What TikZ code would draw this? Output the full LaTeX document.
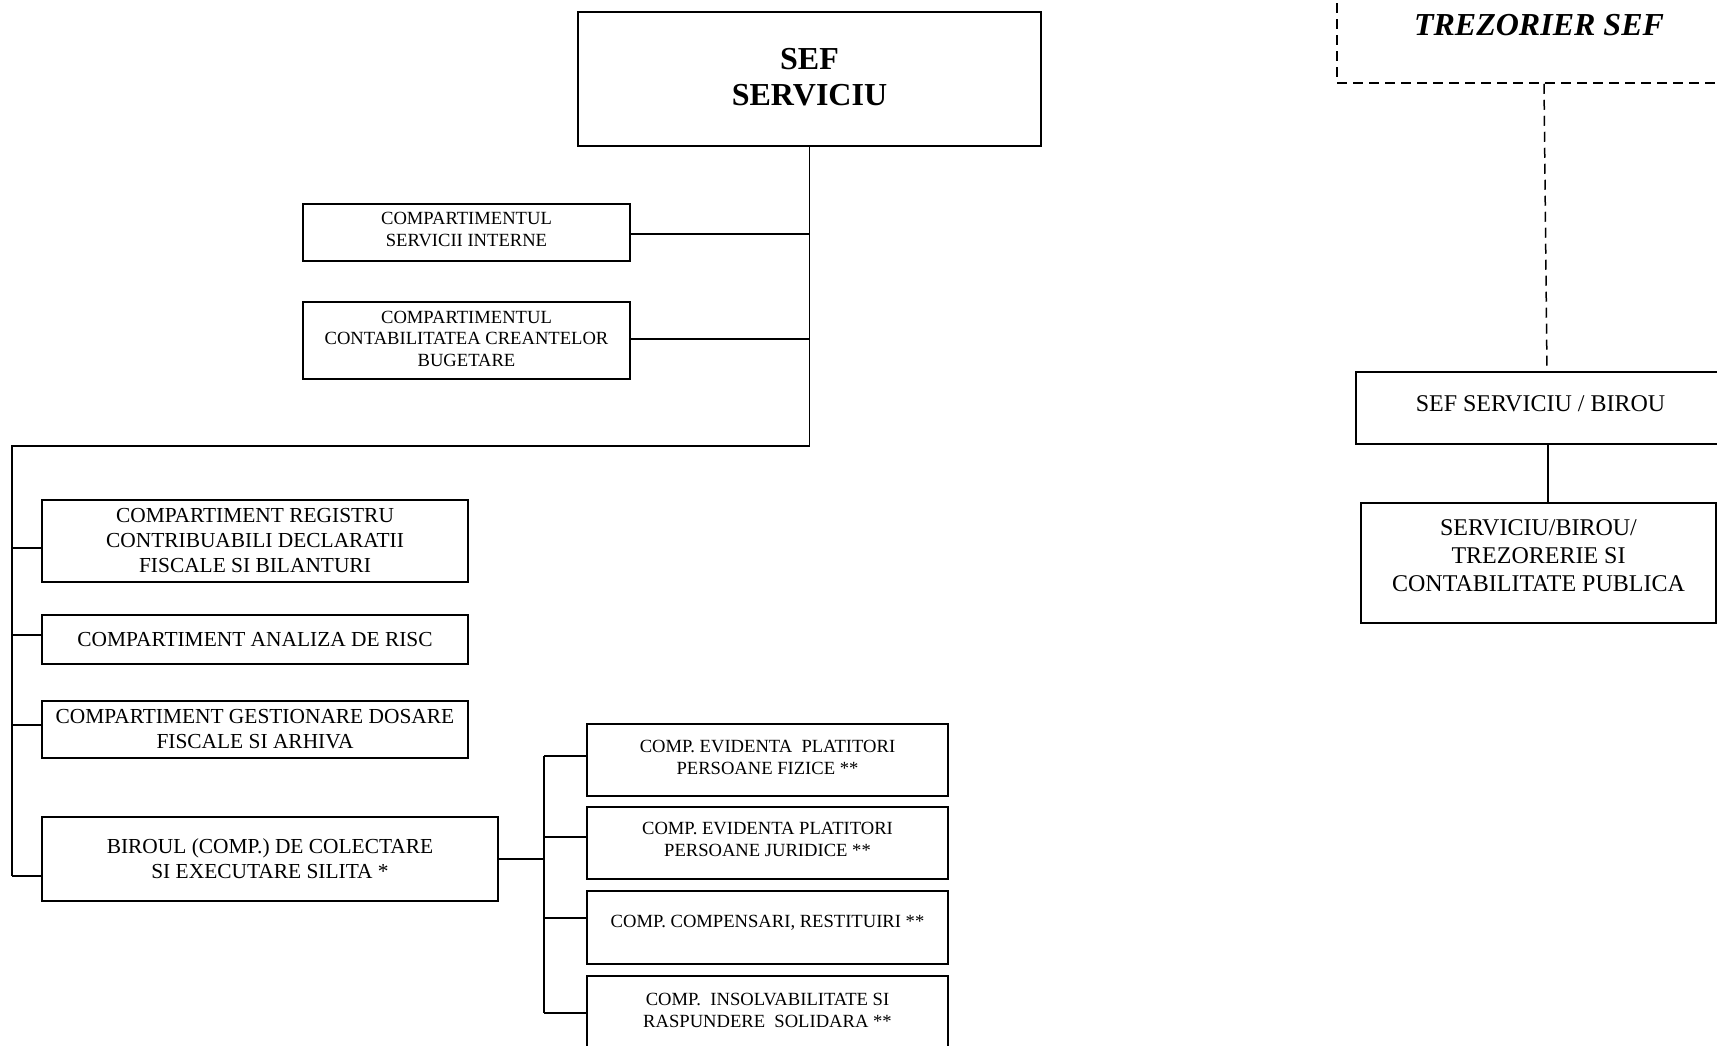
\documentclass[tikz,border=0pt]{standalone}
\usepackage{fontspec}
\setmainfont{Liberation Serif}
\newcommand\rlines[2]{\raisebox{#1}[\height][\depth]{\begin{tabular}{@{}c@{}}#2\end{tabular}}}
\begin{document}
\begin{tikzpicture}[x=1pt,y=-1pt,
  box/.style={draw, line width=1.5pt, inner sep=0pt, align=center},
  bigtxt/.style={font=\fontsize{21.4}{25}\selectfont},
  smalltxt/.style={font=\fontsize{18.6}{21.8}\selectfont},
  midtxt/.style={font=\fontsize{24}{28}\selectfont},
  headtxt/.style={font=\fontsize{32}{36}\selectfont\bfseries},
  conn/.style={line width=1.5pt},
  dconn/.style={line width=1.5pt, dash pattern=on 10pt off 6pt}]
\useasboundingbox (0,0) rectangle (1717,1045);
\clip (0,0) rectangle (1717,1045);
\fill[white] (0,0) rectangle (1717,1045);

% left organisation
\node[box, headtxt, minimum width=463pt, minimum height=134pt] (sef) at (809.5,79) {\rlines{-1.5pt}{SEF\\SERVICIU}};
\node[box, smalltxt, minimum width=327pt, minimum height=57pt] (srv) at (466.5,232.5) {\rlines{1pt}{COMPARTIMENTUL\\SERVICII INTERNE}};
\node[box, smalltxt, minimum width=327pt, minimum height=77pt] (cca) at (466.5,340.5) {\rlines{0pt}{COMPARTIMENTUL\\CONTABILITATEA CREANTELOR\\BUGETARE}};
\node[box, bigtxt, minimum width=426pt, minimum height=82pt] (reg) at (255,541) {COMPARTIMENT REGISTRU\\CONTRIBUABILI DECLARATII\\FISCALE SI BILANTURI};
\node[box, bigtxt, minimum width=426pt, minimum height=49pt] (risc) at (255,639.5) {COMPARTIMENT ANALIZA DE RISC};
\node[box, bigtxt, minimum width=426pt, minimum height=57pt] (gest) at (255,729.5) {COMPARTIMENT GESTIONARE DOSARE\\FISCALE SI ARHIVA};
\node[box, bigtxt, minimum width=456pt, minimum height=84pt] (birou) at (270,859) {BIROUL (COMP.) DE COLECTARE\\SI EXECUTARE SILITA *};
\node[box, smalltxt, minimum width=361pt, minimum height=72pt] (c1) at (767.5,760) {\rlines{1pt}{COMP. EVIDENTA\ \ PLATITORI\\PERSOANE FIZICE **}};
\node[box, smalltxt, minimum width=361pt, minimum height=72pt] (c2) at (767.5,843) {\rlines{1.5pt}{COMP. EVIDENTA PLATITORI\\PERSOANE JURIDICE **}};
\node[box, smalltxt, minimum width=361pt, minimum height=73pt] (c3) at (767.5,927.5) {\rlines{4.5pt}{COMP. COMPENSARI, RESTITUIRI **}};
\node[box, smalltxt, minimum width=361pt, minimum height=74pt] (c4) at (767.5,1013) {\rlines{1pt}{COMP.\ \ INSOLVABILITATE SI\\RASPUNDERE\ \ SOLIDARA **}};

% right organisation
\node[box, dconn, font=\fontsize{32}{36}\selectfont\bfseries\itshape, minimum width=404pt, minimum height=116pt] (trez) at (1539,25) {TREZORIER SEF};
\node[box, midtxt, minimum width=369pt, minimum height=72pt] (sbirou) at (1540.5,408) {\rlines{2pt}{SEF SERVICIU / BIROU}};
\node[box, midtxt, minimum width=355pt, minimum height=120pt] (serv2) at (1538.5,563) {\rlines{5.5pt}{SERVICIU/BIROU/\\TREZORERIE SI\\CONTABILITATE PUBLICA}};

% helper coordinates
\coordinate (tj) at (809.5,446);
\coordinate (lj) at (12,446);
\coordinate (lb) at (12,876);
\coordinate (bj) at (544,859);
\path (0,548) coordinate (yreg) (0,635) coordinate (yrisc) (0,725) coordinate (ygest)
      (0,756) coordinate (yc1) (0,837) coordinate (yc2) (0,918) coordinate (yc3) (0,1013) coordinate (yc4)
      (0,234) coordinate (ysrv) (0,339) coordinate (ycca);

% connectors
\draw[conn] (sef.south) -- (tj) -- (lj) -- (lb);
\draw[conn] (srv.east |- ysrv) -- (tj |- ysrv);
\draw[conn] (cca.east |- ycca) -- (tj |- ycca);
\draw[conn] (lj |- yreg) -- (reg.west |- yreg);
\draw[conn] (lj |- yrisc) -- (risc.west |- yrisc);
\draw[conn] (lj |- ygest) -- (gest.west |- ygest);
\draw[conn] (lb) -- (lb -| birou.west);
\draw[conn] (birou.east) -- (bj);
\draw[conn] (bj |- yc1) -- (bj |- yc4);
\draw[conn] (bj |- yc1) -- (c1.west |- yc1);
\draw[conn] (bj |- yc2) -- (c2.west |- yc2);
\draw[conn] (bj |- yc3) -- (c3.west |- yc3);
\draw[conn] (bj |- yc4) -- (c4.west |- yc4);

\draw[dconn] ([xshift=5pt]trez.south) -- ([xshift=6.5pt]sbirou.north);
\draw[conn] ([xshift=7.5pt]sbirou.south) -- ([xshift=9.5pt]serv2.north);
\end{tikzpicture}
\end{document}
